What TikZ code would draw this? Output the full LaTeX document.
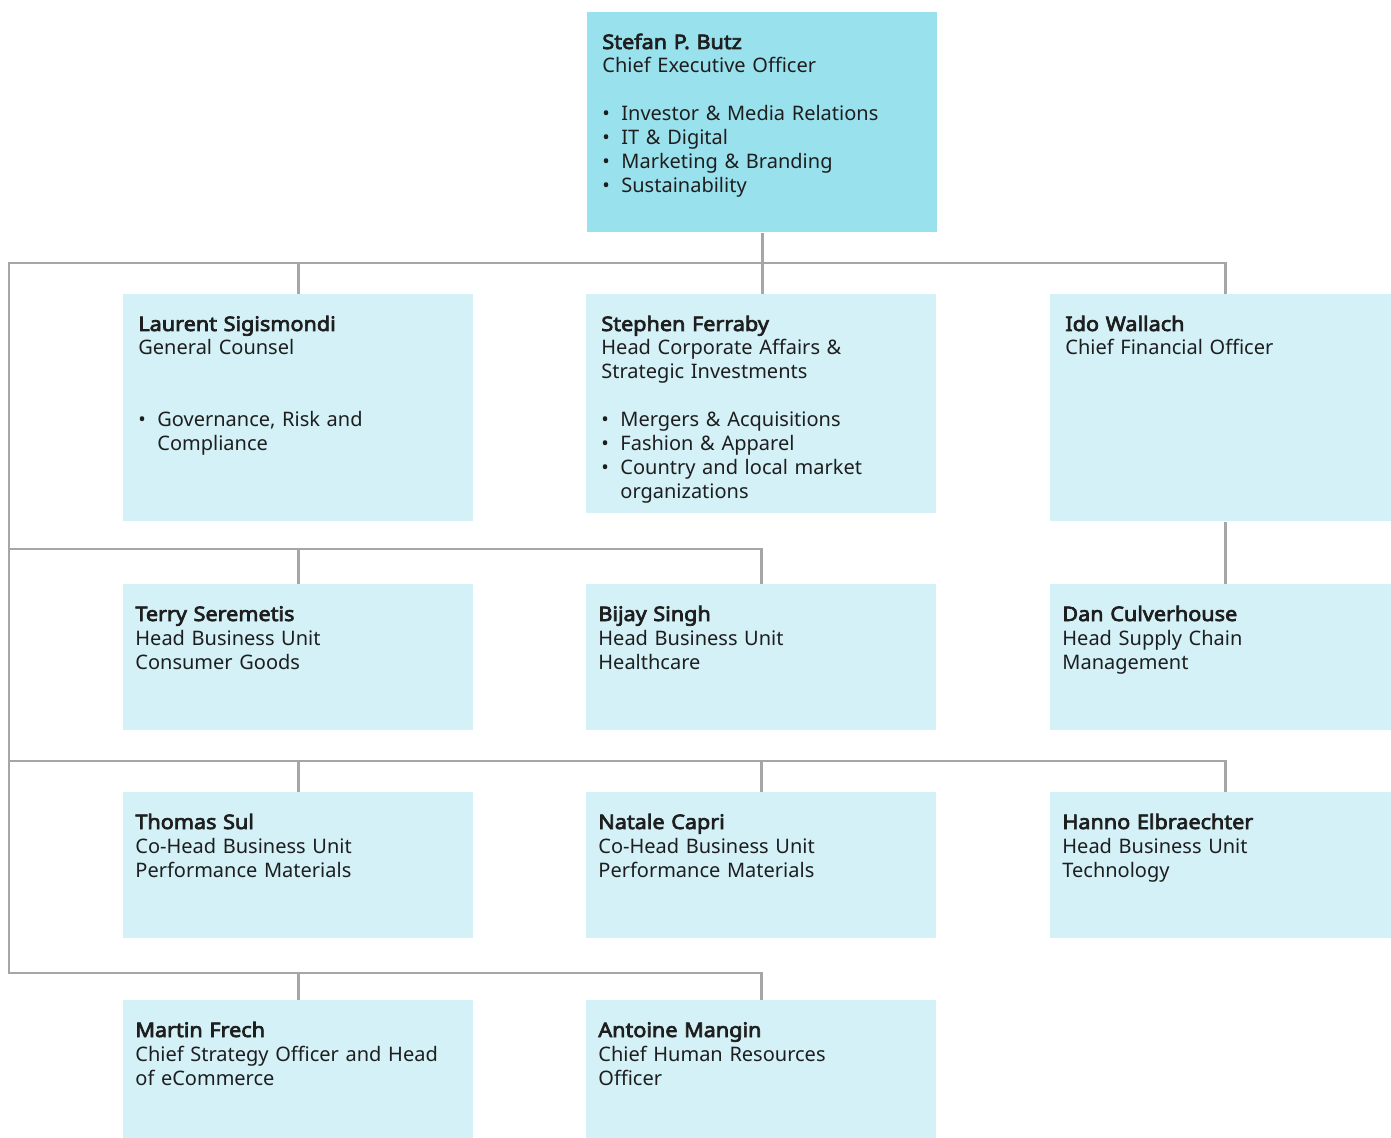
\documentclass[tikz,border=0pt]{standalone}
\usepackage{fontspec}
\setmainfont{Noto Sans}[BoldFont={Noto Sans}, BoldFeatures={FakeBold=3.5,FakeStretch=1.08}]
\usepackage{tikz}

\definecolor{ceoblue}{RGB}{154,225,238}
\definecolor{cardblue}{RGB}{211,241,247}
\definecolor{linegray}{RGB}{166,166,166}
\definecolor{textdark}{RGB}{30,30,30}

\tikzset{
  card/.style={fill=cardblue, anchor=north west, align=left, text=textdark,
    font=\fontsize{10}{12}\selectfont, inner ysep=0pt, text height=18.3pt},
  toprow/.style={card, inner xsep=7.5pt, text width=160pt},
  lowrow/.style={card, inner xsep=6pt, text width=163pt, text depth=54.7pt},
  orgline/.style={draw=linegray, line width=1.1pt}
}

\newcommand{\bul}{\makebox[9.5pt][l]{•}}
\newcommand{\cont}{\hspace*{9.5pt}}

\begin{document}
\begin{tikzpicture}[x=0.5pt,y=-0.5pt]
      \useasboundingbox (0,0) rectangle (1391,1138);
      % CEO
      \node[toprow, fill=ceoblue, text depth=91.7pt] (ceo) at (587,12)
        {\textbf{Stefan P. Butz}\\Chief Executive Officer\\[12pt]
         \bul Investor \& Media Relations\\\bul IT \& Digital\\
         \bul Marketing \& Branding\\\bul Sustainability};
      % Row 1
      \node[toprow, text depth=95.2pt] (laurent) at (123,294)
        {\textbf{Laurent Sigismondi}\\General Counsel\\[24pt]
         \bul Governance, Risk and\\\cont Compliance};
      \node[toprow, text depth=91.2pt] (stephen) at (586,294)
        {\textbf{Stephen Ferraby}\\Head Corporate Affairs \&\\Strategic Investments\\[12pt]
         \bul Mergers \& Acquisitions\\\bul Fashion \& Apparel\\
         \bul Country and local market\\\cont organizations};
      \node[toprow, text depth=95.2pt] (ido) at (1050,294)
        {\textbf{Ido Wallach}\\Chief Financial Officer};
      % Row 2
      \node[lowrow] (terry) at (123,584)
        {\textbf{Terry Seremetis}\\Head Business Unit\\Consumer Goods};
      \node[lowrow] (bijay) at (586,584)
        {\textbf{Bijay Singh}\\Head Business Unit\\Healthcare};
      \node[lowrow] (dan) at (1050,584)
        {\textbf{Dan Culverhouse}\\Head Supply Chain\\Management};
      % Row 3
      \node[lowrow] (thomas) at (123,792)
        {\textbf{Thomas Sul}\\Co-Head Business Unit\\Performance Materials};
      \node[lowrow] (natale) at (586,792)
        {\textbf{Natale Capri}\\Co-Head Business Unit\\Performance Materials};
      \node[lowrow] (hanno) at (1050,792)
        {\textbf{Hanno Elbraechter}\\Head Business Unit\\Technology};
      % Row 4
      \node[lowrow] (martin) at (123,1000)
        {\textbf{Martin Frech}\\Chief Strategy Officer and Head\\of eCommerce};
      \node[lowrow] (antoine) at (586,1000)
        {\textbf{Antoine Mangin}\\Chief Human Resources\\Officer};
      % Bus lines
      \coordinate (bus1) at (9,263);
      \coordinate (bus2) at (9,549);
      \coordinate (bus3) at (9,761);
      \coordinate (bus4) at (9,973);
      \draw[orgline] (ceo.south) -- (ceo.south |- stephen.north);
      \draw[orgline] (ido.north) |- (bus1) -- (bus4) -| (antoine.north);
      \draw[orgline] (laurent.north) -- (laurent.north |- bus1);
      \draw[orgline] (bijay.north) |- (bus2);
      \draw[orgline] (terry.north) -- (terry.north |- bus2);
      \draw[orgline] (ido.south) -- (dan.north);
      \draw[orgline] (hanno.north) |- (bus3);
      \draw[orgline] (thomas.north) -- (thomas.north |- bus3);
      \draw[orgline] (natale.north) -- (natale.north |- bus3);
      \draw[orgline] (martin.north) -- (martin.north |- bus4);
    \end{tikzpicture}
\end{document}
